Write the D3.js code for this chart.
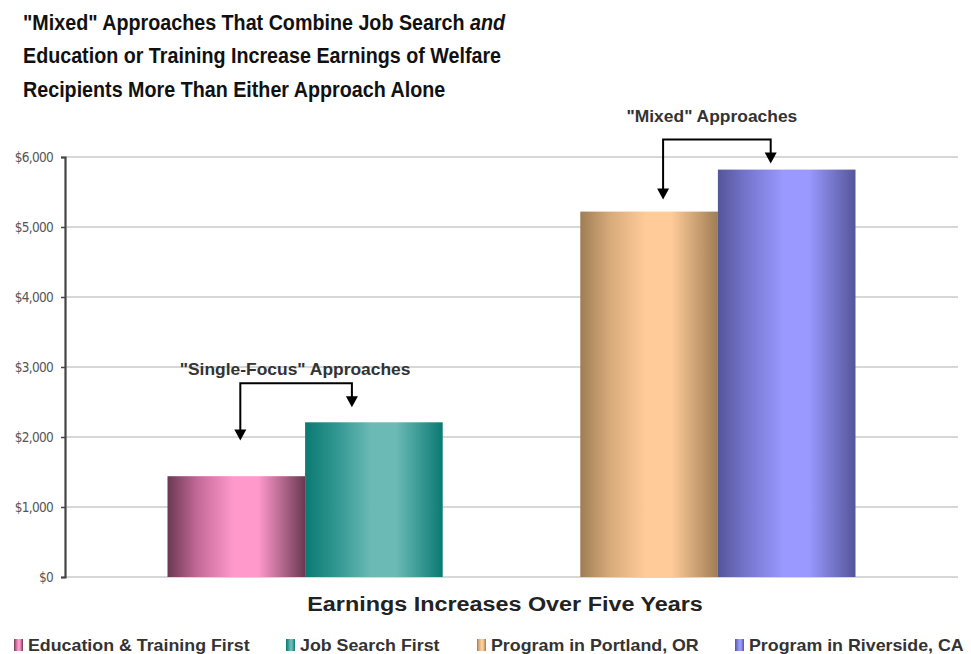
<!DOCTYPE html>
<html><head><meta charset="utf-8">
<script src="https://cdn.jsdelivr.net/npm/d3@7/dist/d3.min.js"></script>
<style>body{margin:0;background:#fff}svg{display:block}</style>
</head><body>
<svg id="c" width="971" height="654"></svg>
<script>
// ---- data ----
const seriesNames = ["Education & Training First", "Job Search First", "Program in Portland, OR", "Program in Riverside, CA"];
const seriesValues = [1440, 2210, 5220, 5820];
const slots = ["Education & Training First", "Job Search First", "gap", "Program in Portland, OR", "Program in Riverside, CA"];
const yTicks = [0, 1000, 2000, 3000, 4000, 5000, 6000];
const titleLines = [["\"Mixed\" Approaches That Combine Job Search ", "and"], ["Education or Training Increase Earnings of Welfare"], ["Recipients More Than Either Approach Alone"]];
const xTitle = "Earnings Increases Over Five Years";
const groupLabels = ["\"Single-Focus\" Approaches", "\"Mixed\" Approaches"];
// annotation levels (in $): [text, bracket, left tip, right tip]
const groupAnnot = [[2882, 2768, 1950, 2425], [6493, 6250, 5394, 5908]];

const colors = [
  {dark:"#6b3852", light:"#ff99cc", mid:"#c46a98"},
  {dark:"#0a7a72", light:"#6bbab6", mid:"#2f958f"},
  {dark:"#9f7d55", light:"#ffcc99", mid:"#d9ab7b"},
  {dark:"#55559a", light:"#9999ff", mid:"#7777d0"}
];

const svg = d3.select("#c");
const plot = {left:65, right:958, top:157, bottom:577};

const y = d3.scaleLinear().domain([0, 6000]).range([plot.bottom, plot.top]);
const x = d3.scaleBand().domain(slots).range([plot.left, plot.right]).paddingInner(0).paddingOuter(0.745);

// gradients
const defs = svg.append("defs");
colors.forEach((c, i) => {
  const g = defs.append("linearGradient").attr("id", "g" + i).attr("x1", "0").attr("x2", "1").attr("y1", "0").attr("y2", "0");
  g.append("stop").attr("offset", "0%").attr("stop-color", c.dark);
  g.append("stop").attr("offset", "22%").attr("stop-color", c.mid);
  g.append("stop").attr("offset", "48%").attr("stop-color", c.light);
  g.append("stop").attr("offset", "66%").attr("stop-color", c.light);
  g.append("stop").attr("offset", "100%").attr("stop-color", c.dark);
});

const FONT = "Liberation Sans, Arial, sans-serif";

// title (horizontally condensed)
const title = svg.append("text").attr("font-family", FONT)
  .attr("transform", "translate(23,0) scale(0.876,1)")
  .attr("font-weight", "bold").attr("font-size", 22.5).attr("fill", "#111");
titleLines.forEach((parts, i) => {
  title.append("tspan").attr("x", 0).attr("y", 30 + i * 33.3).text(parts[0]);
  if (parts[1]) title.append("tspan").attr("font-style", "italic").text(parts[1]);
});

// gridlines
svg.append("g").selectAll("line").data(yTicks).join("line")
  .attr("x1", plot.left).attr("x2", plot.right)
  .attr("y1", d => y(d)).attr("y2", d => y(d))
  .attr("stroke", "#cacaca").attr("stroke-width", 1.5);

// bars
svg.append("g").selectAll("rect").data(seriesValues).join("rect")
  .attr("x", (d, i) => x(seriesNames[i]))
  .attr("width", x.bandwidth())
  .attr("y", d => y(d))
  .attr("height", d => y(0) - y(d))
  .attr("fill", (d, i) => `url(#g${i})`);

// y axis
const yAxis = d3.axisLeft(y).tickValues(yTicks).tickSize(4).tickPadding(8)
  .tickFormat(d => "$" + d3.format(",")(d));
const ga = svg.append("g").attr("transform", `translate(${plot.left},0)`).call(yAxis);
ga.select(".domain").attr("stroke", "#444").attr("stroke-width", 2.2);
ga.selectAll(".tick line").attr("stroke", "#444").attr("stroke-width", 1.5);
ga.selectAll(".tick text").attr("font-family", "DejaVu Sans Condensed, DejaVu Sans, sans-serif")
  .attr("font-size", 13.5).attr("fill", "#555").attr("letter-spacing", "-0.7");

// annotations
const groups = [[seriesNames[0], seriesNames[1], 4, -22, -1], [seriesNames[2], seriesNames[3], 14, -16, -5]];
const ann = svg.append("g");
groups.forEach((gr, i) => {
  const xl = x(gr[0]) + x.bandwidth() / 2 + gr[2];
  const xr = x(gr[1]) + x.bandwidth() / 2 + gr[3];
  const a = groupAnnot[i];
  ann.append("path")
    .attr("d", `M${xl},${y(a[2]) - 8} L${xl},${y(a[1])} L${xr},${y(a[1])} L${xr},${y(a[3]) - 8}`)
    .attr("fill", "none").attr("stroke", "#000").attr("stroke-width", 2);
  [[xl, y(a[2])], [xr, y(a[3])]].forEach(p => {
    ann.append("path").attr("d", `M${p[0]-6},${p[1]-11} L${p[0]+6},${p[1]-11} L${p[0]},${p[1]} Z`).attr("fill", "#000");
  });
  ann.append("text").attr("transform", `translate(${(xl + xr) / 2 + gr[4]},${y(a[0])}) scale(1.09,1)`)
    .attr("text-anchor", "middle").attr("font-family", FONT)
    .attr("font-weight", "bold").attr("font-size", 16).attr("fill", "#333").text(groupLabels[i]);
});

// x title
svg.append("text").attr("transform", "translate(505,611) scale(1.14,1)")
  .attr("text-anchor", "middle").attr("font-family", FONT)
  .attr("font-weight", "bold").attr("font-size", 20.5).attr("fill", "#222").text(xTitle);

// legend
const legendX = [14, 286, 477, 735];
const lg = svg.append("g");
seriesNames.forEach((n, i) => {
  lg.append("rect").attr("x", legendX[i]).attr("y", 639).attr("width", 9).attr("height", 12)
    .attr("fill", `url(#g${i})`);
  lg.append("text").attr("transform", `translate(${legendX[i] + 14},651) scale(1.08,1)`)
    .attr("font-family", FONT).attr("font-weight", "bold")
    .attr("font-size", 16.5).attr("fill", "#333").text(n);
});
</script>
</body></html>
